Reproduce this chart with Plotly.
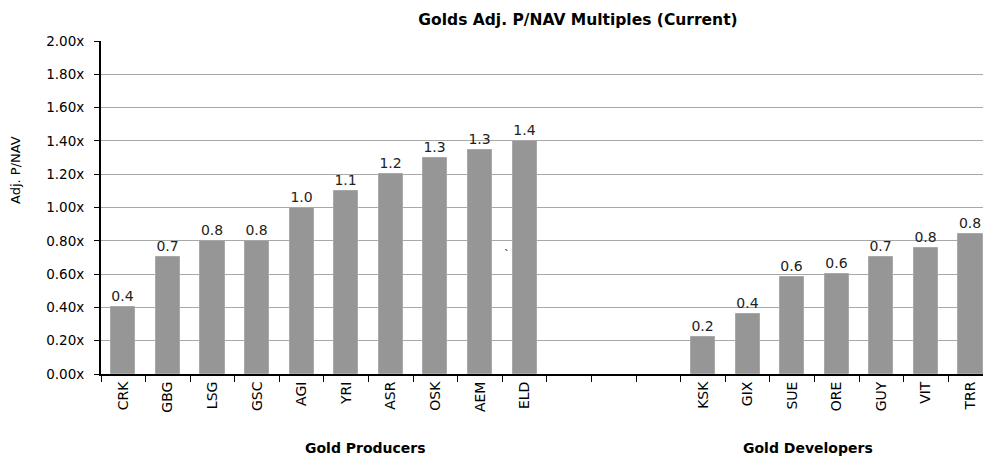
import plotly.graph_objects as go

tickers = ["CRK", "GBG", "LSG", "GSC", "AGI", "YRI", "ASR", "OSK", "AEM", "ELD",
           "", "", "",
           "KSK", "GIX", "SUE", "ORE", "GUY", "VIT", "TRR"]
values = [0.40, 0.70, 0.80, 0.80, 1.00, 1.10, 1.20, 1.30, 1.345, 1.40,
          None, None, None,
          0.22, 0.36, 0.58, 0.60, 0.70, 0.757, 0.843]
y_ticks = [0.0, 0.2, 0.4, 0.6, 0.8, 1.0, 1.2, 1.4, 1.6, 1.8, 2.0]
group_labels = ["Gold Producers", "Gold Developers"]

xs = list(range(len(tickers)))
labels = ["" if v is None else f"{v:.1f}" for v in values]

W, H = 983, 459
L, R, T, B = 101, 0, 41, 85
pw, ph = W - L - R, H - T - B

fig = go.Figure()
fig.add_trace(go.Bar(
    x=xs, y=values, width=0.54,
    marker=dict(color="#969696", line=dict(color="#a8a8a8", width=1)),
    text=labels, textposition="outside", cliponaxis=False,
    textfont=dict(family="DejaVu Sans", size=14, color="#222222"),
    showlegend=False, hoverinfo="skip",
))

fig.update_layout(
    width=W, height=H,
    margin=dict(l=L, r=R, t=T, b=B),
    paper_bgcolor="white", plot_bgcolor="white",
    title=dict(text="<b>Golds Adj. P/NAV Multiples (Current)</b>",
               x=578 / W, xanchor="center", y=1 - 20 / H, yanchor="middle",
               font=dict(family="DejaVu Sans", size=15.5, color="black")),
    bargap=0,
)
fig.update_xaxes(
    range=[-0.5, 19.28],
    tickmode="array", tickvals=xs, ticktext=tickers, tickangle=-90,
    ticks="", showgrid=False,
    tickfont=dict(family="DejaVu Sans", size=14, color="black"),
    showline=True, linecolor="black", linewidth=2,
    minor=dict(tick0=-0.5, dtick=1, ticks="outside", ticklen=6, tickcolor="black", tickwidth=1, showgrid=False),
    zeroline=False,
)
fig.update_yaxes(
    range=[0, 2], tickmode="array", tickvals=y_ticks,
    ticktext=[f"{v:.2f}x" for v in y_ticks],
    ticks="outside", ticklen=5, tickcolor="black", ticklabelstandoff=7,
    tickfont=dict(family="DejaVu Sans", size=13.5, color="black"),
    showgrid=True, gridcolor="#a8a8a8", gridwidth=1,
    showline=True, linecolor="black", linewidth=2, zeroline=False,
)
fig.add_annotation(text="Adj. P/NAV", xref="paper", yref="paper", textangle=-90,
                   x=-(101 - 15) / pw, y=(374 - 170) / ph, showarrow=False,
                   xanchor="center", yanchor="middle",
                   font=dict(family="DejaVu Sans", size=13, color="black"))
fig.add_annotation(text=f"<b>{group_labels[0]}</b>", xref="paper", yref="paper",
                   x=(365 - L) / pw, y=-(448 - 374) / ph, showarrow=False,
                   xanchor="center", yanchor="middle",
                   font=dict(family="DejaVu Sans", size=14, color="black"))
fig.add_annotation(text=f"<b>{group_labels[1]}</b>", xref="paper", yref="paper",
                   x=(808 - L) / pw, y=-(448 - 374) / ph, showarrow=False,
                   xanchor="center", yanchor="middle",
                   font=dict(family="DejaVu Sans", size=14, color="black"))
fig.add_annotation(text="`", xref="paper", yref="paper",
                   x=(507 - L) / pw, y=(374 - 255) / ph, showarrow=False,
                   xanchor="center", yanchor="middle",
                   font=dict(family="DejaVu Sans", size=11, color="black"))

fig.write_html("out.html", config={"displayModeBar": False},
               post_script="document.body.style.margin='0';document.body.style.overflow='hidden';")
